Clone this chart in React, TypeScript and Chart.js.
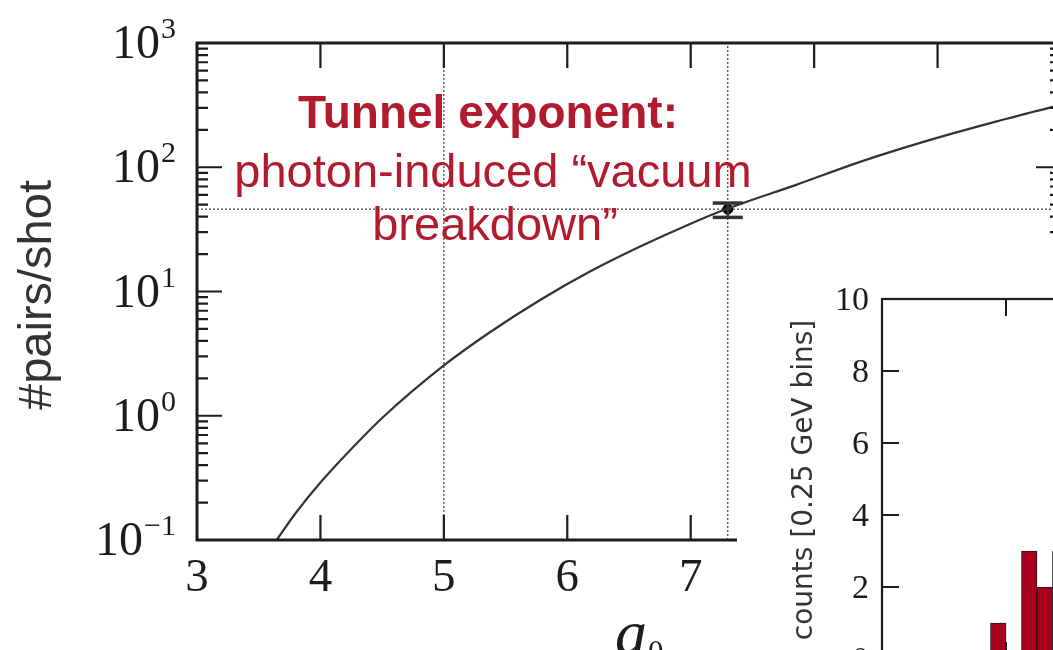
import React, { useEffect, useRef } from 'react';
import { Chart, registerables } from 'chart.js';

Chart.register(...registerables);

// ---- main panel: pairs per shot versus a0 ----
const curveA0 = [3.645, 3.8, 4.0, 4.25, 4.5, 5.0, 5.37, 5.78, 6.18, 6.59, 6.99, 7.3, 7.86, 8.39, 8.94, 9.48, 9.93, 10.0];
const curvePairs = [0.1, 0.165, 0.29, 0.54, 0.96, 2.54, 4.68, 8.55, 14.4, 23.0, 34.8, 46.5, 72.5, 112, 166, 234, 305, 315];

const measuredA0 = 7.3;
const measuredPairs = 46;
const measuredPairsLow = 39.5;
const measuredPairsHigh = 51.5;
const thresholdA0 = 5;

const xTickValues = [3, 4, 5, 6, 7, 8, 9, 10];
const yTickExponents = [-1, 0, 1, 2, 3];
const minorMultipliers = [2, 3, 4, 5, 6, 7, 8, 9];

const annotationLines = ['Tunnel exponent:', 'photon-induced \u201Cvacuum', 'breakdown\u201D'];

// ---- inset: counts per 0.25 GeV bin ----
const binCenters = [1.875, 2.125, 2.375, 2.625, 2.875];
const binCounts = [1, 0, 3, 2, 3];
const insetYTicks = [0, 2, 4, 6, 8, 10];
const insetXTicks = [0, 2, 4, 6];

const INK = '#1c1c1c';
const RED = '#b21b2d';
const SERIF = '"Liberation Serif", "DejaVu Serif", serif';
const SANS = '"Liberation Sans", Arial, sans-serif';

const MAIN_W = 1100;
const MAIN_H = 660;
const INSET_LEFT = 737;
const INSET_TOP = 240;
const INSET_W = 530;
const INSET_H = 460;

const mainDecor = {
  id: 'mainDecor',
  afterDraw(chart: any) {
    const { ctx, chartArea } = chart;
    const { left, right, top, bottom } = chartArea;
    const xs = chart.scales.x;
    const ys = chart.scales.y;
    const MAJOR = 25;
    const MINOR = 11;
    ctx.save();

    // inward ticks on all four sides
    ctx.strokeStyle = INK;
    ctx.lineWidth = 2.2;
    ctx.beginPath();
    xTickValues.forEach((v) => {
      if (v <= xs.min || v >= xs.max) return;
      const px = xs.getPixelForValue(v);
      ctx.moveTo(px, bottom);
      ctx.lineTo(px, bottom - MAJOR);
      ctx.moveTo(px, top);
      ctx.lineTo(px, top + MAJOR);
    });
    yTickExponents.forEach((e) => {
      const base = Math.pow(10, e);
      if (base > ys.min && base < ys.max) {
        const py = ys.getPixelForValue(base);
        ctx.moveTo(left, py);
        ctx.lineTo(left + MAJOR, py);
        ctx.moveTo(right, py);
        ctx.lineTo(right - MAJOR, py);
      }
      if (base < ys.max) {
        minorMultipliers.forEach((m) => {
          const py = ys.getPixelForValue(m * base);
          ctx.moveTo(left, py);
          ctx.lineTo(left + MINOR, py);
          ctx.moveTo(right, py);
          ctx.lineTo(right - MINOR, py);
        });
      }
    });
    ctx.stroke();

    // frame
    ctx.lineWidth = 3;
    ctx.strokeRect(left, top, right - left, bottom - top);

    // y tick labels 10^n
    ctx.fillStyle = INK;
    ctx.textBaseline = 'alphabetic';
    const labelRight = left - 21;
    yTickExponents.forEach((e) => {
      const py = ys.getPixelForValue(Math.pow(10, e));
      const expStr = e < 0 ? '\u2212' + String(-e) : String(e);
      ctx.font = `30px ${SERIF}`;
      const ew = ctx.measureText(expStr).width;
      ctx.textAlign = 'left';
      ctx.fillText(expStr, labelRight - ew, py - 5);
      ctx.font = `48px ${SERIF}`;
      ctx.textAlign = 'right';
      ctx.fillText('10', labelRight - ew - 1, py + 15);
    });

    // x tick labels
    ctx.font = `47px ${SERIF}`;
    ctx.textAlign = 'center';
    xTickValues.forEach((v) => {
      ctx.fillText(String(v), xs.getPixelForValue(v), bottom + 51);
    });

    // x title a_0
    const midX = (left + right) / 2;
    ctx.font = `italic 64px ${SERIF}`;
    ctx.textAlign = 'right';
    ctx.fillText('a', midX + 18, bottom + 114);
    ctx.font = `31px ${SERIF}`;
    ctx.textAlign = 'left';
    ctx.fillText('0', midX + 19, bottom + 122);

    // y title
    ctx.save();
    ctx.translate(51, 295);
    ctx.rotate(-Math.PI / 2);
    ctx.font = `47px ${SANS}`;
    ctx.fillStyle = '#333';
    ctx.textAlign = 'center';
    ctx.fillText('#pairs/shot', 0, 0);
    ctx.restore();

    // annotation
    ctx.fillStyle = RED;
    ctx.textAlign = 'center';
    ctx.font = `bold 46px ${SANS}`;
    ctx.fillText(annotationLines[0], 488, 128);
    ctx.font = `47px ${SANS}`;
    ctx.fillText(annotationLines[1], 493, 187);
    ctx.fillText(annotationLines[2], 495, 240);

    ctx.restore();
  },
};

const insetDecor = {
  id: 'insetDecor',
  beforeDraw(chart: any) {
    const { ctx, width, height } = chart;
    ctx.save();
    ctx.fillStyle = '#ffffff';
    ctx.fillRect(0, 0, width, height);
    ctx.restore();
  },
  afterDraw(chart: any) {
    const { ctx, chartArea } = chart;
    const { left, right, top, bottom } = chartArea;
    const xs = chart.scales.x;
    const ys = chart.scales.y;
    const TICK = 17;
    ctx.save();
    ctx.strokeStyle = INK;
    ctx.lineWidth = 2;
    ctx.beginPath();
    insetYTicks.forEach((v) => {
      if (v <= ys.min || v >= ys.max) return;
      const py = ys.getPixelForValue(v);
      ctx.moveTo(left, py);
      ctx.lineTo(left + TICK, py);
      ctx.moveTo(right, py);
      ctx.lineTo(right - TICK, py);
    });
    insetXTicks.forEach((v) => {
      if (v <= xs.min || v >= xs.max) return;
      const px = xs.getPixelForValue(v);
      ctx.moveTo(px, top);
      ctx.lineTo(px, top + TICK);
      ctx.moveTo(px, bottom);
      ctx.lineTo(px, bottom - TICK);
    });
    ctx.stroke();
    ctx.lineWidth = 2.2;
    ctx.strokeRect(left, top, right - left, bottom - top);

    ctx.fillStyle = INK;
    ctx.font = `34px ${SERIF}`;
    ctx.textAlign = 'right';
    ctx.textBaseline = 'alphabetic';
    insetYTicks.forEach((v) => {
      ctx.fillText(String(v), left - 13, ys.getPixelForValue(v) + 11);
    });

    ctx.save();
    ctx.translate(75, 240);
    ctx.rotate(-Math.PI / 2);
    ctx.font = `28px "DejaVu Sans", sans-serif`;
    ctx.fillStyle = '#333';
    ctx.textAlign = 'center';
    ctx.fillText('counts [0.25 GeV bins]', 0, 0);
    ctx.restore();
    ctx.restore();
  },
};

const dotted = {
  borderColor: '#3a3a3a',
  borderWidth: 1.2,
  borderDash: [2, 2],
  pointRadius: 0,
  fill: false,
};

export default function App() {
  const mainRef = useRef<HTMLCanvasElement>(null);
  const insetRef = useRef<HTMLCanvasElement>(null);

  useEffect(() => {
    const main = new Chart(mainRef.current as HTMLCanvasElement, {
      type: 'line',
      data: {
        datasets: [
          { ...dotted, data: [{ x: thresholdA0, y: 0.1 }, { x: thresholdA0, y: 1000 }] },
          { ...dotted, data: [{ x: measuredA0, y: 0.1 }, { x: measuredA0, y: 1000 }] },
          { ...dotted, data: [{ x: 3, y: measuredPairs }, { x: 10, y: measuredPairs }] },
          {
            data: curveA0.map((x, i) => ({ x, y: curvePairs[i] })),
            borderColor: '#333333',
            borderWidth: 2.2,
            pointRadius: 0,
            cubicInterpolationMode: 'monotone',
            fill: false,
          },
          {
            data: [{ x: measuredA0, y: measuredPairsLow }, { x: measuredA0, y: measuredPairsHigh }],
            borderColor: '#333333',
            borderWidth: 2.5,
            pointRadius: 0,
            fill: false,
          },
          {
            data: [{ x: measuredA0, y: measuredPairsLow }, { x: measuredA0, y: measuredPairsHigh }],
            showLine: false,
            pointStyle: 'line',
            pointRadius: 15,
            pointBorderWidth: 3.5,
            pointBorderColor: '#333333',
            pointBackgroundColor: '#333333',
          },
          {
            data: [{ x: measuredA0, y: measuredPairs }],
            showLine: false,
            pointRadius: 5,
            pointBorderWidth: 1,
            pointBorderColor: '#000000',
            pointBackgroundColor: '#000000',
          },
        ],
      } as any,
      options: {
        responsive: false,
        animation: false,
        devicePixelRatio: 1,
        layout: { padding: { top: 43, right: MAIN_W - 1061, left: 0, bottom: 0 } },
        plugins: { legend: { display: false }, tooltip: { enabled: false } },
        scales: {
          x: {
            type: 'linear',
            min: 3,
            max: 10,
            offset: false,
            ticks: { display: false, stepSize: 1 },
            grid: { display: false },
            border: { display: false },
            afterFit: (s: any) => { s.height = MAIN_H - 540; },
          },
          y: {
            type: 'logarithmic',
            min: 0.1,
            max: 1000,
            ticks: { display: false },
            grid: { display: false },
            border: { display: false },
            afterFit: (s: any) => { s.width = 197; },
          },
        },
      } as any,
      plugins: [mainDecor],
    });

    const inset = new Chart(insetRef.current as HTMLCanvasElement, {
      type: 'bar',
      data: {
        datasets: [
          {
            data: binCenters.map((x, i) => ({ x, y: binCounts[i] })),
            backgroundColor: '#a8001e',
            borderColor: '#1a1a1a',
            borderWidth: 1,
            barPercentage: 1,
            categoryPercentage: 1,
          },
        ],
      } as any,
      options: {
        responsive: false,
        animation: false,
        devicePixelRatio: 1,
        layout: { padding: { top: 59, right: 13, left: 0, bottom: 0 } },
        plugins: { legend: { display: false }, tooltip: { enabled: false } },
        scales: {
          x: {
            type: 'linear',
            min: 0,
            max: 6,
            offset: false,
            ticks: { display: false, stepSize: 2 },
            grid: { display: false, offset: false },
            border: { display: false },
            afterFit: (s: any) => { s.height = 41; },
          },
          y: {
            type: 'linear',
            min: 0,
            max: 10,
            ticks: { display: false, stepSize: 2 },
            grid: { display: false },
            border: { display: false },
            afterFit: (s: any) => { s.width = 145; },
          },
        },
      } as any,
      plugins: [insetDecor],
    });

    return () => {
      main.destroy();
      inset.destroy();
    };
  }, []);

  return (
    <div
      style={{
        position: 'fixed',
        left: 0,
        top: 0,
        width: 1053,
        height: 650,
        overflow: 'hidden',
        background: '#ffffff',
      }}
    >
      <canvas
        ref={mainRef}
        width={MAIN_W}
        height={MAIN_H}
        style={{ position: 'absolute', left: 0, top: 0, width: MAIN_W, height: MAIN_H }}
      />
      <canvas
        ref={insetRef}
        width={INSET_W}
        height={INSET_H}
        style={{ position: 'absolute', left: INSET_LEFT, top: INSET_TOP, width: INSET_W, height: INSET_H }}
      />
    </div>
  );
}
